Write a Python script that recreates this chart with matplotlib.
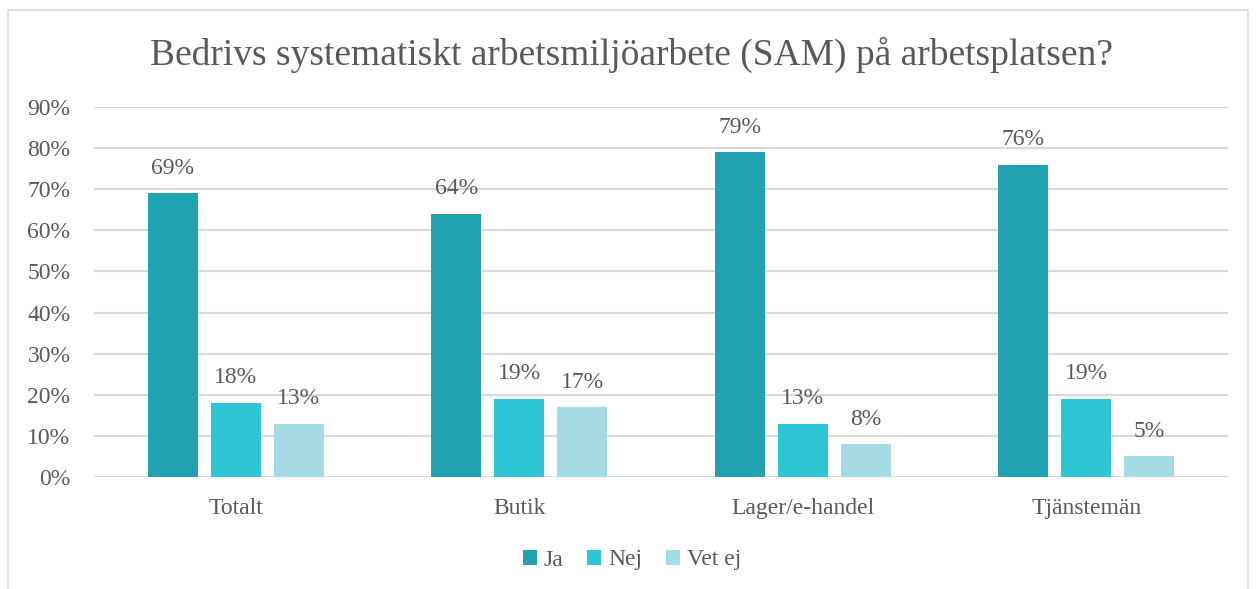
import numpy as np
import matplotlib.pyplot as plt
from matplotlib.patches import Rectangle

plt.rcParams['font.family'] = ['Liberation Serif', 'DejaVu Serif']

categories = ['Totalt', 'Butik', 'Lager/e-handel', 'Tjänstemän']
series_names = ['Ja', 'Nej', 'Vet ej']
ja = [69, 64, 79, 76]
nej = [18, 19, 13, 19]
vet_ej = [13, 17, 8, 5]
colors = ['#21A2B0', '#2DC6D6', '#A5DCE4']
text_color = '#595959'
grid_color = '#D9D9D9'

fig = plt.figure(figsize=(12.58, 5.89), dpi=100)
ax = fig.add_axes([94 / 1258, 1 - 477 / 589, 1134 / 1258, 370 / 589])

# chart border
fig.patches.append(Rectangle((8 / 1258, -0.05), 1240 / 1258, 1.05 - 10 / 589,
                             transform=fig.transFigure, fill=False,
                             edgecolor=grid_color, linewidth=1.2))

x = np.arange(len(categories))
width = 0.176
step = 0.222
for i, (vals, name, col) in enumerate(zip([ja, nej, vet_ej], series_names, colors)):
    pos = x + (i - 1) * step
    bars = ax.bar(pos, [v / 100 for v in vals], width, color=col, label=name, zorder=3)
    for b, v in zip(bars, vals):
        ax.text(b.get_x() + b.get_width() / 2, b.get_height() + 0.061, f'{v}%',
                ha='center', va='center', fontsize=17, color=text_color)

ax.set_xlim(-0.5, 3.5)
ax.set_ylim(0, 0.9)
ax.set_yticks(np.arange(0, 0.91, 0.1))
ax.set_yticklabels([f'{int(round(t * 100))}%' for t in np.arange(0, 0.91, 0.1)])
ax.set_xticks(x)
ax.set_xticklabels(categories)
ax.tick_params(axis='both', length=0, labelsize=17, labelcolor=text_color)
ax.tick_params(axis='x', pad=15)
ax.tick_params(axis='y', pad=17)
ax.grid(axis='y', color=grid_color, linewidth=1.5, zorder=0)
for s in ax.spines.values():
    s.set_visible(False)

fig.text(632 / 1258, 1 - 55 / 589, 'Bedrivs systematiskt arbetsmiljöarbete (SAM) på arbetsplatsen?',
         ha='center', va='center', fontsize=27, color=text_color)

fig.legend(loc='center', bbox_to_anchor=(632 / 1258, 1 - 560 / 589), ncol=3, frameon=False,
           fontsize=17, labelcolor=text_color, handlelength=0.6, handleheight=0.6,
           handletextpad=0.3, columnspacing=1.0)

fig.savefig('out.png', dpi=100)
